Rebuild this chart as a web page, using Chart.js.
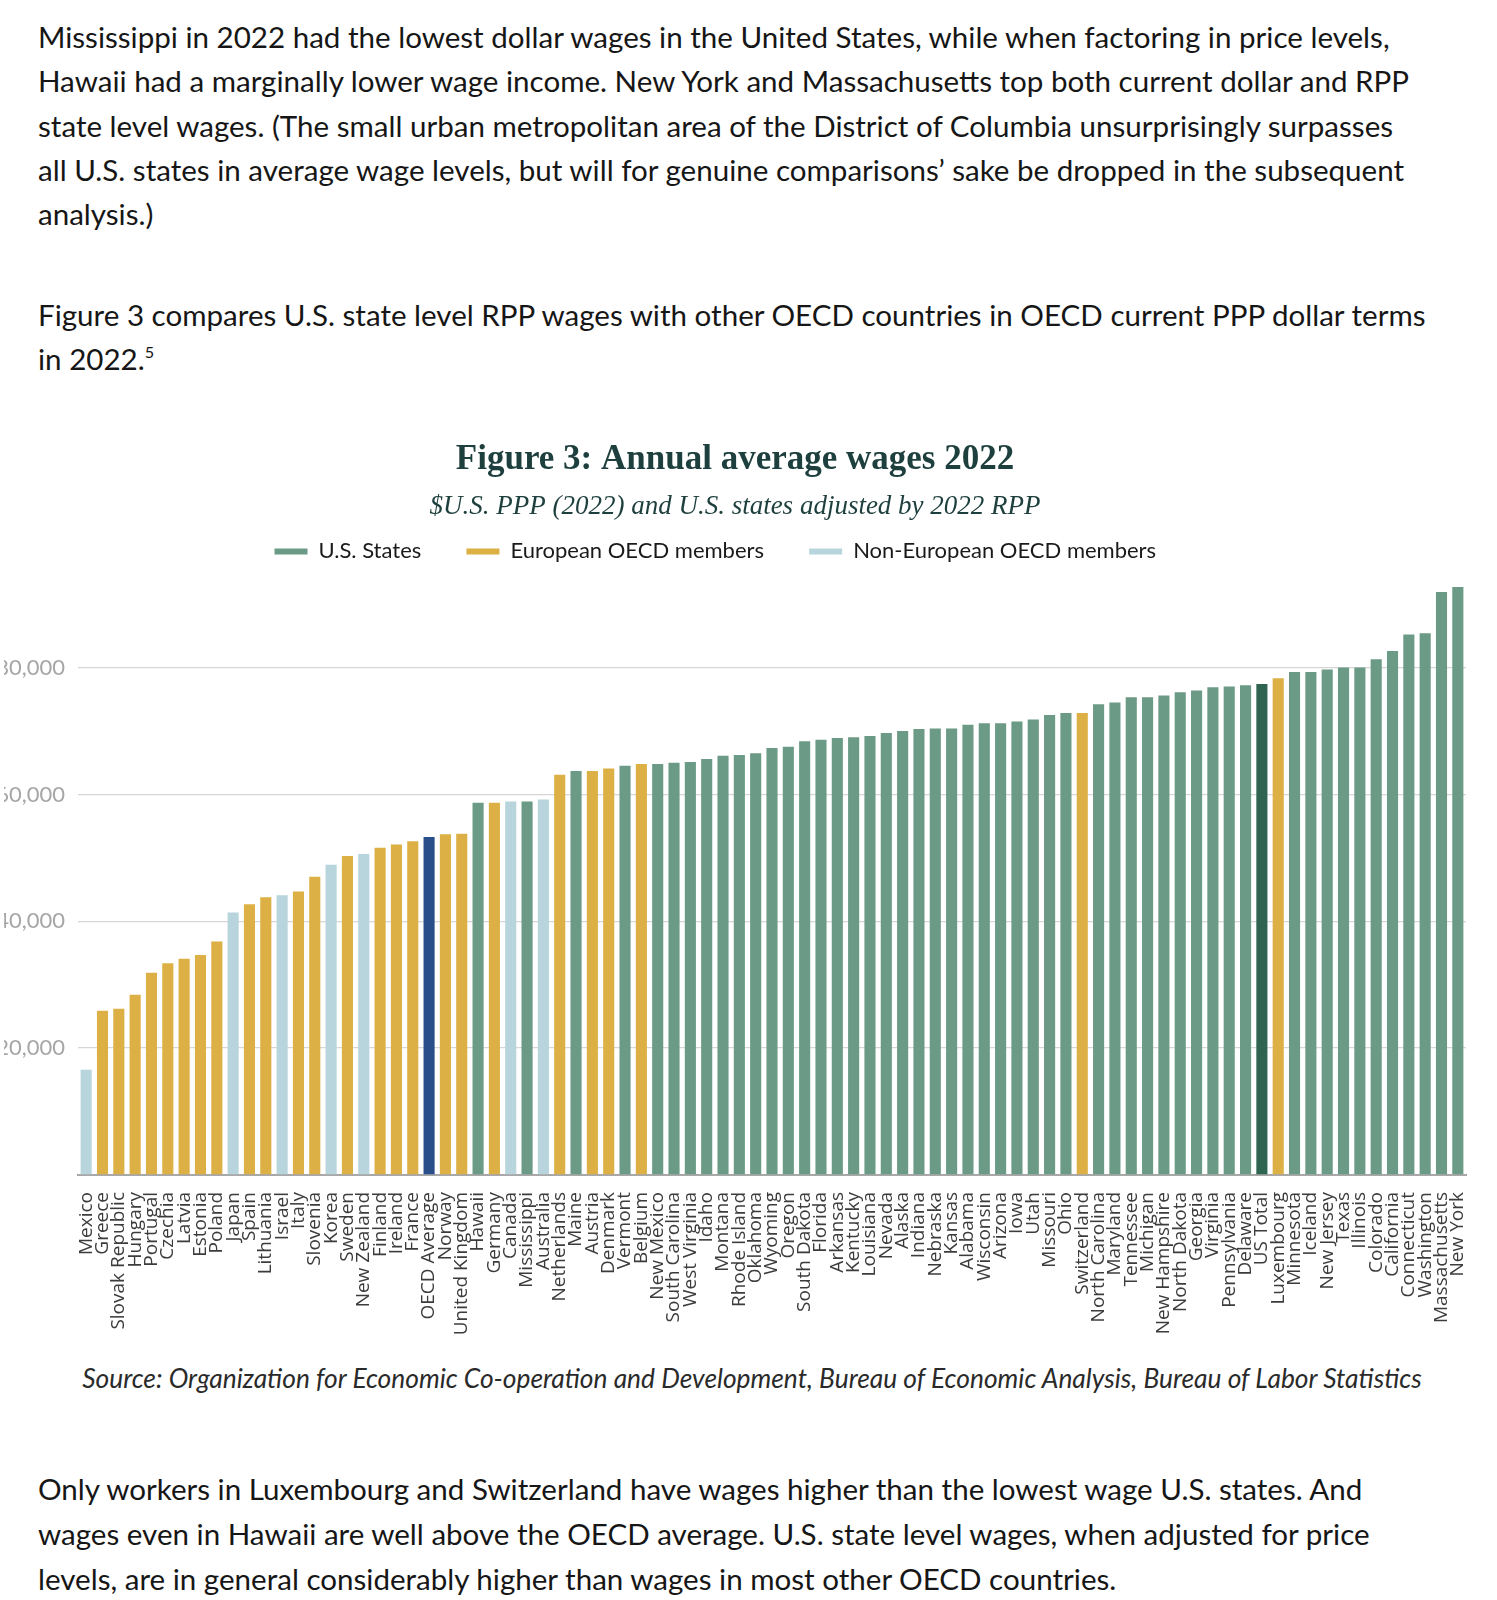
<!DOCTYPE html>
<html>
<head>
<meta charset="utf-8">
<script src="https://cdn.jsdelivr.net/npm/chart.js@4.4.1/dist/chart.umd.min.js"></script>
<style>
  html, body { margin: 0; padding: 0; background: #fff; }
  #page { position: relative; width: 1497px; height: 1600px; overflow: hidden; background: #fff; }
  .ln { position: absolute; left: 38px; white-space: nowrap; font-family: Lato, sans-serif; color: #161616; line-height: 44px; height: 44px; font-size: 27px; }
  .ln sup { font-size: 0.55em; vertical-align: 0.75em; line-height: 0; }
  #chartbox { position: absolute; left: -30px; top: 415px; width: 1530px; height: 935px; }
  #src { position: absolute; top: 1358px; left: 82px; white-space: nowrap; font-family: Lato, sans-serif; font-style: italic; color: #2a2a2a; line-height: 40px; font-size: 24px; }
</style>
</head>
<body>
<div id="page">
  <div class="ln body" id="l1" style="top:14.8px">Mississippi in 2022 had the lowest dollar wages in the United States, while when factoring in price levels,</div>
  <div class="ln body" style="top:58.7px">Hawaii had a marginally lower wage income. New York and Massachusetts top both current dollar and RPP</div>
  <div class="ln body" style="top:103.6px">state level wages. (The small urban metropolitan area of the District of Columbia unsurprisingly surpasses</div>
  <div class="ln body" style="top:147.5px">all U.S. states in average wage levels, but will for genuine comparisons’ sake be dropped in the subsequent</div>
  <div class="ln body" style="top:192.4px">analysis.)</div>

  <div class="ln body" style="top:292.5px">Figure 3 compares U.S. state level RPP wages with other OECD countries in OECD current PPP dollar terms</div>
  <div class="ln body" style="top:337.4px">in 2022.<sup>5</sup></div>

  <div id="chartbox"><canvas id="chart"></canvas></div>

  <div id="src">Source: Organization for Economic Co-operation and Development, Bureau of Economic Analysis, Bureau of Labor Statistics</div>

  <div class="ln body" style="top:1466.6px">Only workers in Luxembourg and Switzerland have wages higher than the lowest wage U.S. states. And</div>
  <div class="ln body" style="top:1511.5px">wages even in Hawaii are well above the OECD average. U.S. state level wages, when adjusted for price</div>
  <div class="ln body" style="top:1556.5px">levels, are in general considerably higher than wages in most other OECD countries.</div>
</div>

<script>
// ---------- DATA ----------
const categories = [
  "Mexico","Greece","Slovak Republic","Hungary","Portugal","Czechia","Latvia","Estonia","Poland","Japan",
  "Spain","Lithuania","Israel","Italy","Slovenia","Korea","Sweden","New Zealand","Finland","Ireland",
  "France","OECD Average","Norway","United Kingdom","Hawaii","Germany","Canada","Mississippi","Australia","Netherlands",
  "Maine","Austria","Denmark","Vermont","Belgium","New Mexico","South Carolina","West Virginia","Idaho","Montana",
  "Rhode Island","Oklahoma","Wyoming","Oregon","South Dakota","Florida","Arkansas","Kentucky","Louisiana","Nevada",
  "Alaska","Indiana","Nebraska","Kansas","Alabama","Wisconsin","Arizona","Iowa","Utah","Missouri",
  "Ohio","Switzerland","North Carolina","Maryland","Tennessee","Michigan","New Hampshire","North Dakota","Georgia","Virginia",
  "Pennsylvania","Delaware","US Total","Luxembourg","Minnesota","Iceland","New Jersey","Texas","Illinois","Colorado",
  "California","Connecticut","Washington","Massachusetts","New York"
];

const wages = [
  16600, 25900, 26200, 28400, 31900, 33400, 34100, 34700, 36800, 41400,
  42700, 43800, 44100, 44700, 47000, 48900, 50300, 50600, 51600, 52100,
  52600, 53300, 53700, 53800, 58700, 58700, 58900, 58900, 59200, 63100,
  63700, 63700, 64100, 64500, 64800, 64800, 65000, 65100, 65600, 66100,
  66200, 66500, 67300, 67500, 68400, 68600, 68900, 69000, 69200, 69700,
  70000, 70300, 70400, 70400, 71000, 71200, 71200, 71500, 71800, 72500,
  72850, 72850, 74200, 74500, 75300, 75300, 75600, 76100, 76400, 76900,
  77000, 77200, 77400, 78300, 79300, 79300, 79700, 80000, 80000, 81300,
  82600, 85200, 85400, 91900, 92700
];

// US = U.S. state, EU = European OECD member, NE = non-European OECD member,
// OECD = OECD average, UST = US total
const groups = [
  "NE","EU","EU","EU","EU","EU","EU","EU","EU","NE",
  "EU","EU","NE","EU","EU","NE","EU","NE","EU","EU",
  "EU","OECD","EU","EU","US","EU","NE","US","NE","EU",
  "US","EU","EU","US","EU","US","US","US","US","US",
  "US","US","US","US","US","US","US","US","US","US",
  "US","US","US","US","US","US","US","US","US","US",
  "US","EU","US","US","US","US","US","US","US","US",
  "US","US","UST","EU","US","US","US","US","US","US",
  "US","US","US","US","US"
];

const seriesKeys = ["US", "EU", "NE", "OECD", "UST"];
const seriesNames = ["U.S. States", "European OECD members", "Non-European OECD members", "OECD Average", "US Total"];
const yTicks = [0, 20000, 40000, 60000, 80000];

// ---------- STYLES ----------
const seriesColors = ["#6b9a86", "#dcb044", "#b8d4dc", "#2a4e8a", "#2f6550"];

// ---------- TEXT FITTING ----------
function fitSize(el, target) {
  el.style.fontSize = '100px';
  const w = el.getBoundingClientRect().width;
  return 100 * target / w;
}
const bodySize = fitSize(document.getElementById('l1'), 1352);
document.querySelectorAll('.body').forEach(el => el.style.fontSize = bodySize.toFixed(2) + 'px');
const src = document.getElementById('src');
const srcSize = fitSize(src, 1340);
src.style.fontSize = srcSize.toFixed(2) + 'px';
src.style.left = (752 - src.getBoundingClientRect().width / 2) + 'px';

// ---------- CHART ----------
const datasets = seriesKeys.map((key, k) => ({
  label: seriesNames[k],
  data: wages.map((v, i) => groups[i] === key ? v : null),
  backgroundColor: seriesColors[k],
  borderWidth: 0,
  grouped: false,
  barPercentage: 0.68,
  categoryPercentage: 1.0
}));

const NB = '\u00A0';
const legendPad = [NB.repeat(5), NB.repeat(5), NB.repeat(7)];

new Chart(document.getElementById('chart'), {
  type: 'bar',
  data: { labels: categories, datasets },
  options: {
    responsive: true,
    maintainAspectRatio: false,
    animation: false,
    layout: { padding: { left: 34, right: 34, top: 0, bottom: 0 } },
    plugins: {
      title: {
        display: true,
        text: 'Figure 3: Annual average wages 2022',
        color: '#1d3f3d',
        font: { family: 'Liberation Serif', size: 35, weight: 'bold' },
        padding: { top: 24, bottom: 0 }
      },
      subtitle: {
        display: true,
        text: '$U.S. PPP (2022) and U.S. states adjusted by 2022 RPP',
        color: '#1d3f3d',
        font: { family: 'Liberation Serif', size: 27, style: 'italic' },
        padding: { top: 10, bottom: 0 }
      },
      legend: {
        position: 'top',
        labels: {
          boxWidth: 33,
          boxHeight: 6,
          padding: 17,
          color: '#1a1a1a',
          font: { family: 'Lato', size: 22 },
          generateLabels(chart) {
            const items = Chart.defaults.plugins.legend.labels.generateLabels(chart);
            return items.filter(it => it.datasetIndex < 3).map((it, i) => {
              it.text = it.text + legendPad[i];
              return it;
            });
          }
        }
      },
      tooltip: { enabled: false }
    },
    scales: {
      x: {
        grid: { display: false, drawTicks: false },
        border: { display: true, color: '#a8a8a8', width: 2 },
        ticks: {
          autoSkip: false,
          maxRotation: 90,
          minRotation: 90,
          padding: 17,
          color: '#3c3c3c',
          font: { family: 'Open Sans', size: 19 }
        },
        afterFit(scale) { scale.height = 175; }
      },
      y: {
        min: 0,
        max: 95000,
        border: { display: false },
        grid: {
          drawTicks: false,
          lineWidth: 1.3,
          color: ctx => (ctx.tick && ctx.tick.value === 0) ? 'rgba(0,0,0,0)' : '#d6d6d6'
        },
        afterBuildTicks(scale) { scale.ticks = yTicks.map(v => ({ value: v })); },
        ticks: {
          padding: 13,
          color: '#a6a6a6',
          font: { family: 'Lato', size: 22 },
          callback: v => v === 0 ? '' : v.toLocaleString('en-US')
        },
        afterFit(scale) { scale.width = 74; }
      }
    }
  }
});
</script>
</body>
</html>
